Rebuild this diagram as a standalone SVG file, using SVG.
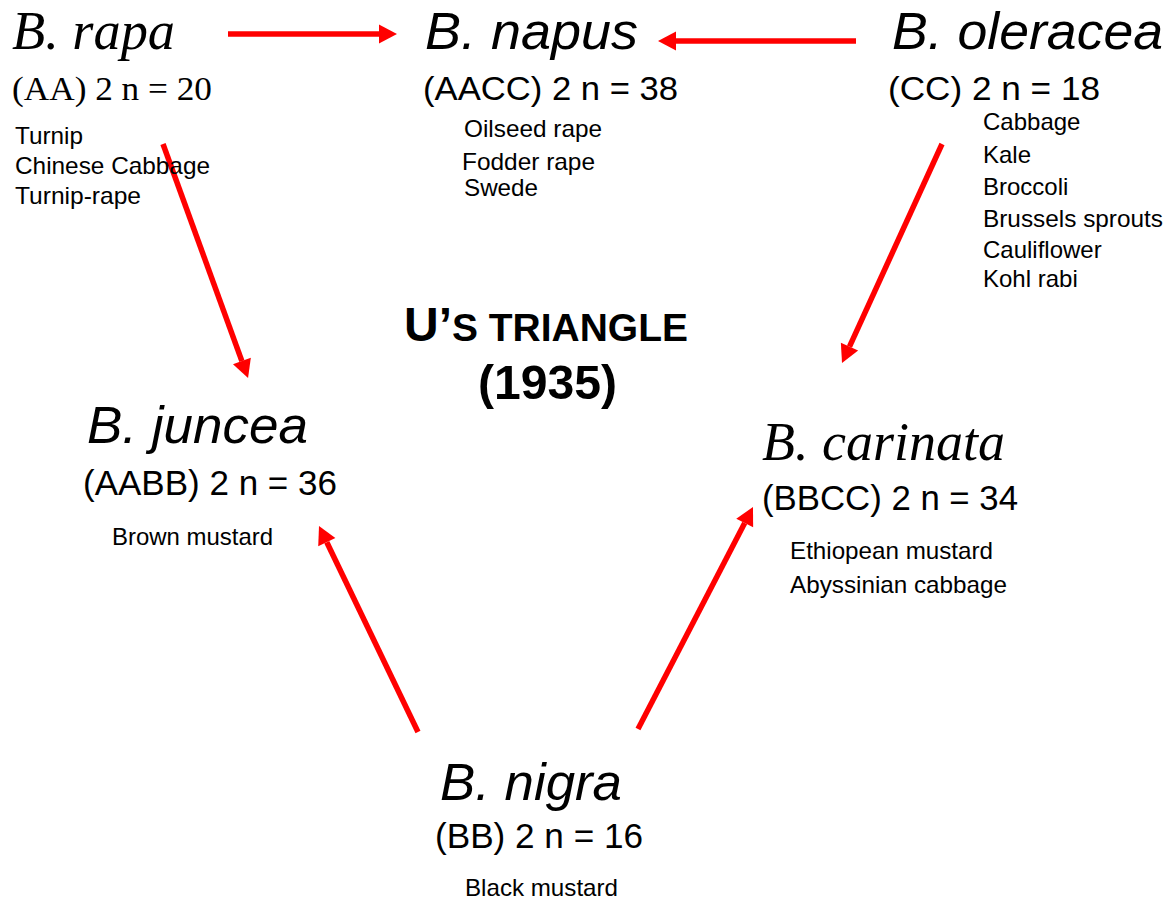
<svg xmlns="http://www.w3.org/2000/svg" width="1174" height="903" viewBox="0 0 1174 903">
<style>
.sp{font-family:"Liberation Sans",Arial,sans-serif;font-style:italic;fill:#000}
.spt{font-family:"Liberation Serif","Times New Roman",serif;font-style:italic;fill:#000}
.ch{font-family:"Liberation Sans",Arial,sans-serif;fill:#000}
.cht{font-family:"Liberation Serif","Times New Roman",serif;fill:#000}
.cr{font-family:"Liberation Sans",Arial,sans-serif;font-size:24px;fill:#000}
.title{font-family:"Liberation Sans",Arial,sans-serif;font-weight:bold;fill:#000}
.arr{stroke:#ff0000;stroke-width:5.5;fill:none;marker-end:url(#ah)}
</style>
<defs>
<marker id="ah" markerUnits="userSpaceOnUse" viewBox="0 0 18 20" markerWidth="18" markerHeight="20" refX="0" refY="10" orient="auto" overflow="visible">
<path d="M0,0.5 L18,10 L0,19.5 Z" fill="#ff0000"/>
</marker>
</defs>
<rect width="1174" height="903" fill="#fff"/>
<g id="connectors">
<line class="arr" x1="228" y1="34" x2="379" y2="34"/>
<line class="arr" x1="856" y1="41" x2="676" y2="41"/>
<line class="arr" x1="163" y1="144" x2="241.9" y2="361.1"/>
<line class="arr" x1="942" y1="144" x2="849.5" y2="346.6"/>
<line class="arr" x1="418" y1="732" x2="326.8" y2="542.2"/>
<line class="arr" x1="638" y1="729" x2="744.7" y2="523"/>
</g>
<g id="rapa">
<text class="spt" x="12" y="49" font-size="55" textLength="163" lengthAdjust="spacingAndGlyphs">B. rapa</text>
<text class="cht" x="12" y="100" font-size="34" textLength="200" lengthAdjust="spacingAndGlyphs">(AA) 2 n = 20</text>
<text class="cr" x="15" y="144" textLength="68" lengthAdjust="spacingAndGlyphs">Turnip</text>
<text class="cr" x="15" y="174" textLength="195" lengthAdjust="spacingAndGlyphs">Chinese Cabbage</text>
<text class="cr" x="15" y="204" textLength="126" lengthAdjust="spacingAndGlyphs">Turnip-rape</text>
</g>
<g id="napus">
<text class="sp" x="425" y="49" font-size="52" textLength="213" lengthAdjust="spacingAndGlyphs">B. napus</text>
<text class="ch" x="423" y="100" font-size="34" textLength="255" lengthAdjust="spacingAndGlyphs">(AACC) 2 n = 38</text>
<text class="cr" x="464" y="137" textLength="138" lengthAdjust="spacingAndGlyphs">Oilseed rape</text>
<text class="cr" x="462" y="170" textLength="133" lengthAdjust="spacingAndGlyphs">Fodder rape</text>
<text class="cr" x="464" y="196" textLength="74" lengthAdjust="spacingAndGlyphs">Swede</text>
</g>
<g id="oleracea">
<text class="sp" x="892" y="49" font-size="52" textLength="271" lengthAdjust="spacingAndGlyphs">B. oleracea</text>
<text class="ch" x="888" y="100" font-size="34" textLength="212" lengthAdjust="spacingAndGlyphs">(CC) 2 n = 18</text>
<text class="cr" x="983" y="130">Cabbage</text>
<text class="cr" x="983" y="163">Kale</text>
<text class="cr" x="983" y="195">Broccoli</text>
<text class="cr" x="983" y="227" textLength="180" lengthAdjust="spacingAndGlyphs">Brussels sprouts</text>
<text class="cr" x="983" y="258">Cauliflower</text>
<text class="cr" x="983" y="287">Kohl rabi</text>
</g>
<g id="title">
<text class="title" x="404" y="341" textLength="284" lengthAdjust="spacingAndGlyphs"><tspan font-size="48">U’</tspan><tspan font-size="39">S TRIANGLE</tspan></text>
<text class="title" x="478" y="399" font-size="48" textLength="139" lengthAdjust="spacingAndGlyphs">(1935)</text>
</g>
<g id="juncea">
<text class="sp" x="87" y="443" font-size="52" textLength="221" lengthAdjust="spacingAndGlyphs">B. juncea</text>
<text class="ch" x="83" y="495" font-size="35" textLength="254" lengthAdjust="spacingAndGlyphs">(AABB) 2 n = 36</text>
<text class="cr" x="112" y="545" textLength="161" lengthAdjust="spacingAndGlyphs">Brown mustard</text>
</g>
<g id="carinata">
<text class="spt" x="762" y="460" font-size="54" textLength="243" lengthAdjust="spacingAndGlyphs">B. carinata</text>
<text class="ch" x="762" y="510" font-size="35" textLength="256" lengthAdjust="spacingAndGlyphs">(BBCC) 2 n = 34</text>
<text class="cr" x="790" y="559" textLength="203" lengthAdjust="spacingAndGlyphs">Ethiopean mustard</text>
<text class="cr" x="790" y="593" textLength="217" lengthAdjust="spacingAndGlyphs">Abyssinian cabbage</text>
</g>
<g id="nigra">
<text class="sp" x="440" y="800" font-size="52" textLength="182" lengthAdjust="spacingAndGlyphs">B. nigra</text>
<text class="ch" x="435" y="848" font-size="35" textLength="208" lengthAdjust="spacingAndGlyphs">(BB) 2 n = 16</text>
<text class="cr" x="465" y="896" textLength="153" lengthAdjust="spacingAndGlyphs">Black mustard</text>
</g>
</svg>
